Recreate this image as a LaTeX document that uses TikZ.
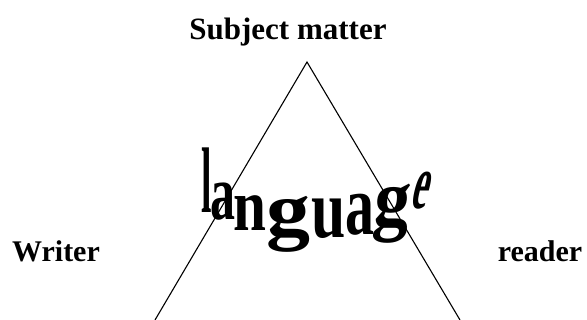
\documentclass[tikz,border=0pt]{standalone}
\usepackage{fontspec}
\setmainfont{Liberation Serif}
\usetikzlibrary{positioning}
\tikzset{
  lbl/.style ={font=\fontsize{30}{36}\selectfont\bfseries, inner sep=0pt, anchor=base},
  warp/.style={font=\fontsize{40}{48}\selectfont\bfseries, inner sep=0pt, anchor=base},
  side/.style={line width=1.1pt},
}
\newcommand{\wl}[3]{\scalebox{#1}[#2]{#3}}

\begin{document}
\begin{tikzpicture}[x=1pt, y=-1pt]
  \useasboundingbox (0,0) rectangle (587,320);
  % triangle
  \coordinate (apex) at (307,62);
  \coordinate (wfoot) at (155,320);
  \coordinate (rfoot) at (460,320);
  \draw[side] (wfoot) -- (apex) -- (rfoot);
  % corner labels
  \node[lbl, font=\fontsize{31}{36}\selectfont\bfseries] (subj) at (288,40) {Subject matter};
  \node[lbl] (writer) at (56,262) {Writer};
  \node[lbl] (reader) at (540,262) {reader};
  % the arched word
  \node[warp] (l1) at (206.5,213) {\wl{0.94}{2.33}{l}};
  \node[warp] (l2) at (223,220) {\wl{1.25}{1.95}{a}};
  \node[warp] (l3) at (249.5,231) {\wl{1.48}{1.85}{n}};
  \node[warp] (l4) at (288,236) {\wl{2.2}{1.91}{g}};
  \node[warp] (l5) at (329,238) {\wl{1.54}{2.1}{u}};
  \node[warp] (l6) at (359.5,235) {\wl{1.45}{2.15}{a}};
  \node[warp, xslant=0.1] (l7) at (390,226) {\wl{1.8}{2.02}{g}};
  \node[warp, xslant=0.25] (l8) at (417.5,209) {\wl{0.92}{1.94}{e}};
\end{tikzpicture}
\end{document}
